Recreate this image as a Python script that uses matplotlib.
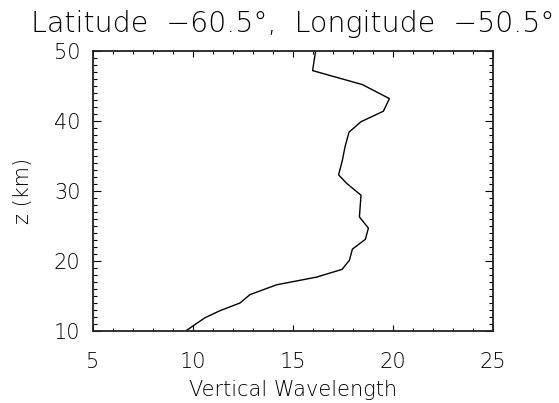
import matplotlib
matplotlib.use("Agg")
import matplotlib.pyplot as plt
from matplotlib.ticker import MultipleLocator

# profile (top to bottom)
wavelength = [16.13, 15.98, 18.47, 19.82, 19.52, 18.40, 17.80, 17.60, 17.47, 17.28,
              17.68, 18.40, 18.32, 18.77, 18.62, 17.97, 17.82, 17.45, 16.18, 14.18,
              12.85, 12.35, 11.35, 10.60, 9.68]
z_km = [50.0, 47.2, 45.2, 43.2, 41.4, 39.9, 38.4, 36.3, 34.4, 32.3,
        31.1, 29.4, 26.3, 24.7, 23.1, 21.7, 20.1, 18.8, 17.7, 16.6,
        15.2, 14.0, 12.9, 11.9, 10.1]
x_ticks = [5, 10, 15, 20, 25]
y_ticks = [10, 20, 30, 40, 50]
title = "Latitude  \u221260.5\u00b0,  Longitude  \u221250.5\u00b0"

plt.rcParams['font.family'] = ['DejaVu Sans']
plt.rcParams['axes.unicode_minus'] = True

fig = plt.figure(figsize=(5.59, 4.03), dpi=100)
ax = fig.add_axes([93/559, 1 - 331/403, 400/559, 280/403])

ax.plot(wavelength, z_km, color="black", lw=1.0)

ax.set_xlim(5, 25)
ax.set_ylim(10, 50)
ax.set_xticks(x_ticks)
ax.set_yticks(y_ticks)
ax.xaxis.set_minor_locator(MultipleLocator(1))
ax.yaxis.set_minor_locator(MultipleLocator(1))

ax.tick_params(axis="x", which="major", direction="in", length=4, width=0.8,
               top=True, labelsize=15, pad=15)
ax.tick_params(axis="x", which="minor", direction="in", length=2, width=0.8, top=True)
ax.tick_params(axis="y", which="major", direction="in", length=6, width=0.8,
               right=True, labelsize=15, pad=9)
ax.tick_params(axis="y", which="minor", direction="in", length=3, width=0.8, right=True)
for lbl in ax.get_xticklabels() + ax.get_yticklabels():
    lbl.set_fontweight("light")

for sp in ax.spines.values():
    sp.set_linewidth(1.3)
    sp.set_color("#222222")

ax.set_xlabel("Vertical Wavelength", fontsize=15, labelpad=6, fontweight="light")
ax.set_ylabel("z (km)", fontsize=15, labelpad=15, fontweight="light")
ax.set_title(title, fontsize=20.5, pad=14, fontweight="light")

fig.savefig("out.png", dpi=100)
